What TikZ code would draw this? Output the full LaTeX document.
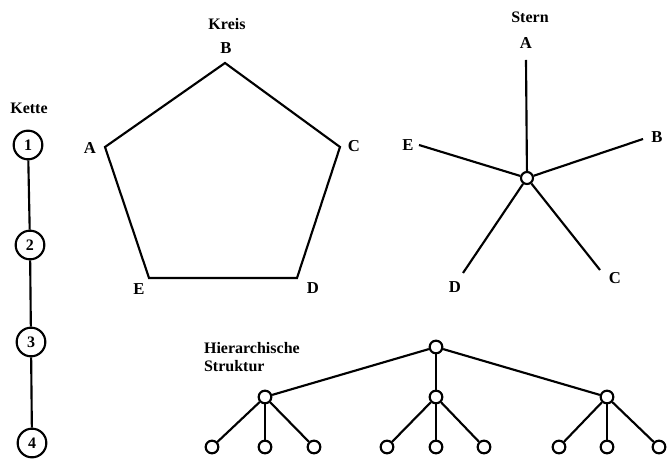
\documentclass[tikz,border=0pt]{standalone}
\usepackage{fontspec}
\setmainfont{Liberation Serif}
\usepackage{tikz}
\usetikzlibrary{calc}
\tikzstyle{glied} = [draw, circle, minimum size=21.5pt, inner sep=0pt, font=\bfseries\fontsize{12}{14}\selectfont]
\tikzstyle{knoten} = [draw, circle, fill=white, minimum size=9.5pt, inner sep=0pt]
\tikzstyle{zentrum} = [draw, circle, fill=white, minimum size=9pt, inner sep=0pt]
\tikzstyle{marke} = [font=\bfseries\fontsize{12.5}{14}\selectfont, inner sep=0pt]
\tikzstyle{titel} = [font=\bfseries\fontsize{12}{14}\selectfont, inner sep=0pt]

\begin{document}
\begin{tikzpicture}[x=0.75pt, y=-0.75pt, line width=1.6pt, line join=miter]
	\useasboundingbox (0,0) rectangle (667,459);

	% Kette
	\node[titel] (kette) at (29,108) {Kette} ;
	\node[glied] (k1) at (28,145) {1} ;
	\node[glied] (k2) at (30,245) {2} ;
	\node[glied] (k3) at (31,342) {3} ;
	\node[glied] (k4) at (32,443) {4} ;
	\draw (k1) -- (k2) ;
	\draw (k2) -- (k3) ;
	\draw (k3) -- (k4) ;

	% Kreis
	\node[titel] (kreis) at (227,24) {Kreis} ;
	\coordinate (kA) at (105,147) ;
	\coordinate (kB) at (225,63) ;
	\coordinate (kC) at (340,147) ;
	\coordinate (kD) at (297,278) ;
	\coordinate (kE) at (149,278) ;
	\node[marke] at (90,148) {A} ;
	\node[marke] at (226,48) {B} ;
	\node[marke] at (354,146) {C} ;
	\node[marke] at (313,288) {D} ;
	\node[marke] at (139,289) {E} ;
	\draw (kA) -- (kB) -- (kC) -- (kD) -- (kE) -- cycle ;

	% Stern
	\node[titel] (stern) at (530,17) {Stern} ;
	\node[zentrum] (sM) at (527,178) {} ;
	\coordinate (sA) at (526,60) ;
	\coordinate (sB) at (643,139) ;
	\coordinate (sC) at (600,270) ;
	\coordinate (sD) at (463,273) ;
	\coordinate (sE) at (419,145) ;
	\node[marke] at (526,43) {A} ;
	\node[marke] at (657,137) {B} ;
	\node[marke] at (615,278) {C} ;
	\node[marke] at (455,287) {D} ;
	\node[marke] at (408,145) {E} ;
	\draw (sM) -- (sA) ;
	\draw (sM) -- (sB) ;
	\draw (sM) -- (sC) ;
	\draw (sM) -- (sD) ;
	\draw (sM) -- (sE) ;

	% Hierarchische Struktur
	\node[titel, anchor=west, align=left] (hier) at (203,357) {Hierarchische\\Struktur} ;
	\node[knoten] (w) at (436,347) {} ;
	\node[knoten] (m1) at (265,397) {} ;
	\node[knoten] (m2) at (436,397) {} ;
	\node[knoten] (m3) at (607,397) {} ;
	\node[knoten] (b1) at (212,447) {} ;
	\node[knoten] (b2) at (265,447) {} ;
	\node[knoten] (b3) at (314,447) {} ;
	\node[knoten] (b4) at (387,447) {} ;
	\node[knoten] (b5) at (436,447) {} ;
	\node[knoten] (b6) at (484,447) {} ;
	\node[knoten] (b7) at (559,447) {} ;
	\node[knoten] (b8) at (607,447) {} ;
	\node[knoten] (b9) at (659,447) {} ;

	\draw (w) -- (m1) ;
	\draw (w) -- (m2) ;
	\draw (w) -- (m3) ;
	\draw (m1) -- (b1) ;
	\draw (m1) -- (b2) ;
	\draw (m1) -- (b3) ;
	\draw (m2) -- (b4) ;
	\draw (m2) -- (b5) ;
	\draw (m2) -- (b6) ;
	\draw (m3) -- (b7) ;
	\draw (m3) -- (b8) ;
	\draw (m3) -- (b9) ;
\end{tikzpicture}
\end{document}
